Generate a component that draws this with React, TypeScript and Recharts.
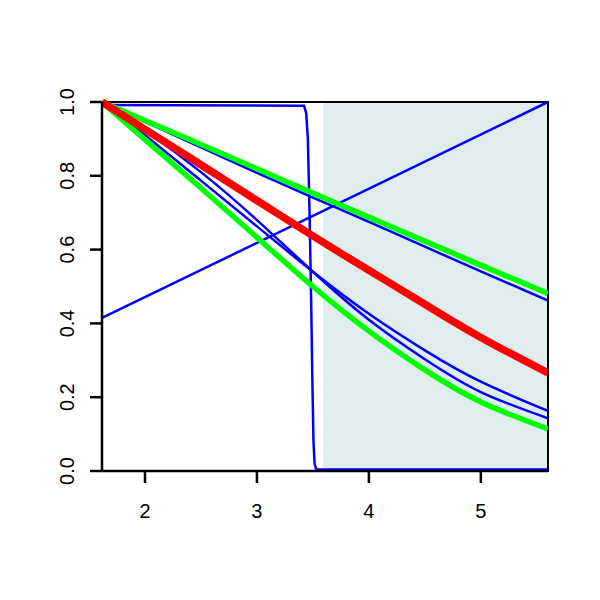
import React from "react";
import {
  ComposedChart,
  Line,
  XAxis,
  YAxis,
  ReferenceArea,
} from "recharts";

// x positions shared by the smooth curves
const curveX = [1.616, 2, 2.5, 3, 3.5, 4, 4.5, 5, 5.6];

const greenUpper = [1, 0.95, 0.885, 0.819, 0.753, 0.688, 0.623, 0.558, 0.481];
const blueUpper = [1, 0.946, 0.877, 0.808, 0.741, 0.675, 0.608, 0.541, 0.462];
const redMid = [1, 0.926, 0.83, 0.733, 0.637, 0.544, 0.452, 0.362, 0.266];
const blueB = [1, 0.923, 0.81, 0.68, 0.54, 0.41, 0.303, 0.214, 0.143];
const blueA = [1, 0.91, 0.787, 0.663, 0.54, 0.426, 0.327, 0.242, 0.163];
const greenLower = [1, 0.898, 0.767, 0.633, 0.5, 0.379, 0.274, 0.187, 0.114];

// steep drop
const stepX = [1.616, 3.42, 3.44, 3.455, 3.47, 3.485, 3.495, 3.505, 3.515, 3.53, 5.6];
const stepY = [0.992, 0.99, 0.97, 0.9, 0.7, 0.45, 0.25, 0.08, 0.02, 0.004, 0.004];

const lineX = [1.616, 5.6];
const lineY = [0.415, 1.0];

const xTicks = [2, 3, 4, 5];
const yTicks = [0, 0.2, 0.4, 0.6, 0.8, 1];
const xDomain: [number, number] = [1.616, 5.6];
const shadeFrom = 3.59;

const zip = (xs: number[], ys: number[]) => xs.map((x, i) => ({ x, y: ys[i] }));

const FONT = "'Liberation Sans', Arial, Helvetica, sans-serif";

const YTick = (props: any) => {
  const { x, y, payload } = props;
  return (
    <text
      x={x}
      y={y}
      transform={`rotate(-90, ${x}, ${y})`}
      textAnchor="middle"
      dominantBaseline="central"
      fontFamily={FONT}
      fontSize={20}
      fill="#000"
    >
      {payload.value.toFixed(1)}
    </text>
  );
};

const XTick = (props: any) => {
  const { x, y, payload } = props;
  return (
    <text
      x={x}
      y={y}
      textAnchor="middle"
      dominantBaseline="central"
      fontFamily={FONT}
      fontSize={20}
      fill="#000"
    >
      {payload.value}
    </text>
  );
};

const common = { dataKey: "y", dot: false, isAnimationActive: false } as any;

export default function App() {
  return (
    <div style={{ position: "absolute", left: 0, top: 0, width: 600, height: 600, background: "#fff" }}>
      <ComposedChart width={600} height={600} margin={{ top: 102, right: 52, bottom: 69, left: 2 }}>
        <XAxis
          type="number"
          dataKey="x"
          domain={xDomain}
          ticks={xTicks}
          allowDataOverflow
          height={60}
          tickSize={12}
          tickMargin={28}
          tick={<XTick />}
          axisLine={{ stroke: "#000", strokeWidth: 2.5 }}
          tickLine={{ stroke: "#000", strokeWidth: 2.5 }}
        />
        <YAxis
          type="number"
          domain={[0, 1]}
          ticks={yTicks}
          width={100}
          tickSize={12}
          tickMargin={23}
          tick={<YTick />}
          axisLine={{ stroke: "#000", strokeWidth: 2.5 }}
          tickLine={{ stroke: "#000", strokeWidth: 2.5 }}
        />
        <ReferenceArea x1={shadeFrom} x2={xDomain[1]} y1={0} y2={1} fill="#e0eded" fillOpacity={1} stroke="none" />
        <ReferenceArea x1={xDomain[0]} x2={xDomain[1]} y1={0} y2={1} fill="none" stroke="#000" strokeWidth={2} />
        <Line {...common} data={zip(stepX, stepY)} type="linear" stroke="#0000ff" strokeWidth={2.5} />
        <Line {...common} data={zip(lineX, lineY)} type="linear" stroke="#0000ff" strokeWidth={2.5} />
        <Line {...common} data={zip(curveX, blueUpper)} type="natural" stroke="#0000ff" strokeWidth={2.5} />
        <Line {...common} data={zip(curveX, blueA)} type="natural" stroke="#0000ff" strokeWidth={2.5} />
        <Line {...common} data={zip(curveX, blueB)} type="natural" stroke="#0000ff" strokeWidth={2.5} />
        <Line {...common} data={zip(curveX, greenUpper)} type="natural" stroke="#00ff00" strokeWidth={5.5} />
        <Line {...common} data={zip(curveX, greenLower)} type="natural" stroke="#00ff00" strokeWidth={5.5} />
        <Line {...common} data={zip(curveX, redMid)} type="natural" stroke="#ff0000" strokeWidth={7.5} />
      </ComposedChart>
    </div>
  );
}
